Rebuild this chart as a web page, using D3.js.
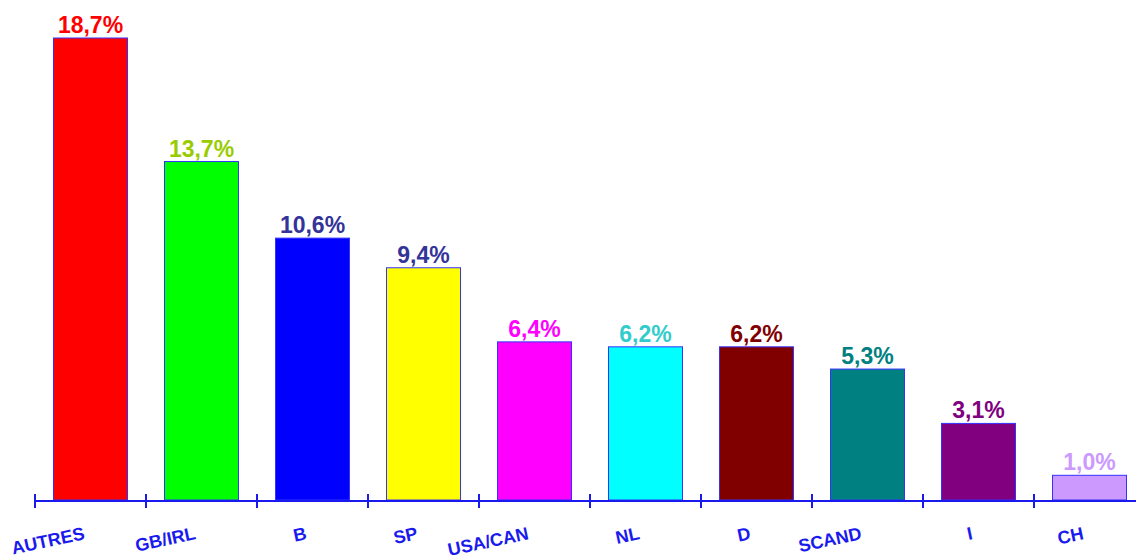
<!DOCTYPE html>
<meta charset="utf-8">
<html>
  <head>
    <script src="https://d3js.org/d3.v7.min.js"></script>
    <style>
      body { margin: 0; background: #fff; }
      text { font-family: "Liberation Sans", Arial, sans-serif; font-weight: bold; }
    </style>
  </head>
  <body>
    <div id="chart"></div>
    <script>
      var categories = ["AUTRES", "GB/IRL", "B", "SP", "USA/CAN", "NL", "D", "SCAND", "I", "CH"];
      var values = [18.7, 13.7, 10.6, 9.4, 6.4, 6.2, 6.2, 5.3, 3.1, 1.0];
      var barColors = ["#ff0000", "#00ff00", "#0000ff", "#ffff00", "#ff00ff", "#00ffff", "#800000", "#008080", "#800080", "#cc99ff"];
      var labelColors = ["#ff0000", "#99cc00", "#333399", "#333399", "#ff00ff", "#33cccc", "#800000", "#008080", "#800080", "#cc99ff"];

      var width = 1136, height = 559, baseY = 500;

      var svg = d3.select("#chart").append("svg")
          .attr("width", width)
          .attr("height", height);

      var x = d3.scaleBand()
          .domain(categories)
          .range([35, 1145])
          .paddingInner(1/3)
          .paddingOuter(1/6);

      var y = d3.scaleLinear()
          .domain([0, 18.7])
          .range([baseY, 38]);

      var data = categories.map(function(c, i) { return {cat: c, v: values[i], i: i}; });
      var half = x.step() * x.paddingInner() / 2;

      // bars
      svg.append("g").selectAll("rect")
        .data(data)
        .enter().append("rect")
        .attr("x", function(d) { return x(d.cat); })
        .attr("y", function(d) { return y(d.v); })
        .attr("width", x.bandwidth())
        .attr("height", function(d) { return baseY - y(d.v); })
        .attr("fill", function(d) { return barColors[d.i]; })
        .attr("stroke", "#3333ff")
        .attr("stroke-width", 1);

      // value labels
      svg.append("g").selectAll("text")
        .data(data)
        .enter().append("text")
        .attr("x", function(d) { return x(d.cat) + x.bandwidth() / 2; })
        .attr("y", function(d) { return y(d.v) - 5; })
        .attr("text-anchor", "middle")
        .attr("font-size", "23px")
        .attr("fill", function(d) { return labelColors[d.i]; })
        .text(function(d) { return d.v.toFixed(1).replace(".", ",") + "%"; });

      // axis line + ticks at band boundaries
      var axis = svg.append("g").attr("stroke", "#1a1aee").attr("stroke-width", 2);
      axis.append("line")
        .attr("x1", 35).attr("x2", width)
        .attr("y1", baseY + 1).attr("y2", baseY + 1);
      axis.selectAll("line.tick")
        .data(categories)
        .enter().append("line")
        .attr("class", "tick")
        .attr("x1", function(c) { return x(c) - half; })
        .attr("x2", function(c) { return x(c) - half; })
        .attr("y1", baseY - 6).attr("y2", baseY + 8);

      // category labels, slightly rotated, right end near band centre
      svg.append("g").selectAll("text")
        .data(data)
        .enter().append("text")
        .attr("transform", function(d) {
          var cx = x(d.cat) + x.bandwidth() / 2 - 5;
          return "translate(" + cx + "," + 539 + ") rotate(-12)";
        })
        .attr("text-anchor", "end")
        .attr("font-size", "18px")
        .attr("fill", "#1a1aee")
        .text(function(d) { return d.cat; });
    </script>
  </body>
</html>
